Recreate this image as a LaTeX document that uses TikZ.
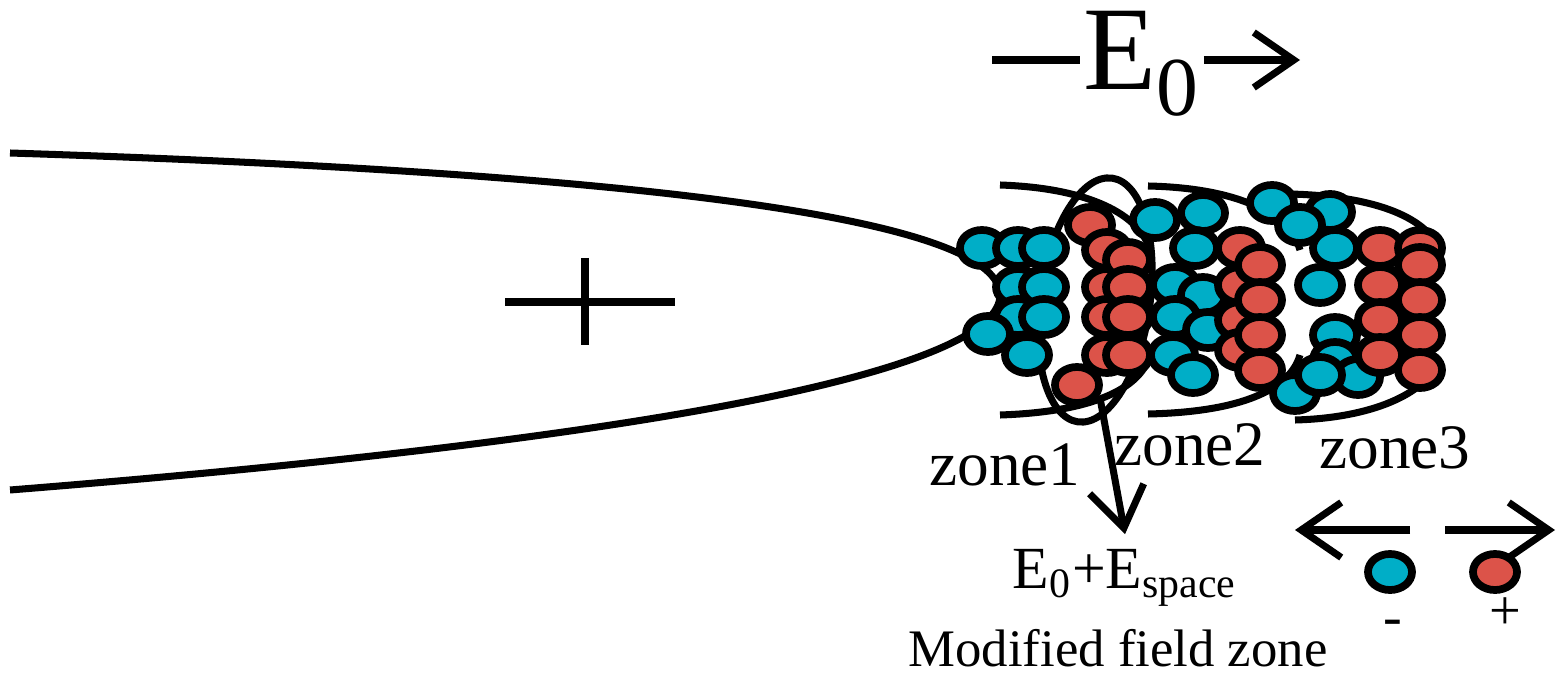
\documentclass[tikz,border=0pt]{standalone}
\usepackage{fontspec}
\setmainfont{Liberation Serif}
\usetikzlibrary{arrows.meta,shapes.geometric}
\definecolor{ion}{HTML}{00AEC7}
\definecolor{pos}{HTML}{DC5349}
\tikzset{
  blob/.style={ellipse,draw,line width=2.2pt,inner sep=0pt,minimum width=0.44cm,minimum height=0.36cm},
  neg/.style={blob,fill=ion},
  plus/.style={blob,fill=pos},
  barb/.style={-{Straight Barb[length=4mm,width=5.5mm,line width=2pt]}},
}
\begin{document}
\begin{tikzpicture}[x=0.01cm,y=-0.01cm,line width=2pt]
\useasboundingbox (0,0) rectangle (1566,673);
            % tip and shells
            \draw (10,153) .. controls (700,175) and (1000,225) .. (1000,295) .. controls (1000,365) and (700,435) .. (10,490);
            \draw (505,302) -- (675,302);
            \draw (585,258) -- (585,345);
            \draw (1000,185) .. controls (1090,188) and (1140,215) .. (1150,250);
            \draw (1000,415) .. controls (1090,412) and (1140,390) .. (1150,355);
            \draw (1148,186) .. controls (1240,188) and (1290,215) .. (1300,250);
            \draw (1148,414) .. controls (1240,412) and (1290,390) .. (1300,355);
            \draw (1290,194) .. controls (1370,196) and (1425,215) .. (1440,250);
            \draw (1295,420) .. controls (1370,418) and (1425,395) .. (1440,360);
            \draw[rotate around={-8:(1095,300)}] (1095,300) ellipse (0.55cm and 1.23cm);

            % ions
            \foreach \p [count=\i] in {(982,248),(1018,248),(1044,248),(1018,287),(1044,287),(1018,317),(1044,317),(988,334),(1027,355),
                (1155,220),(1203,213),(1195,248),(1175,285),(1203,295),(1175,317),(1208,330),(1173,355),(1193,375),
                (1272,203),(1330,212),(1300,225),(1335,248),(1320,285),(1335,335),(1335,360),(1295,393),(1358,377),(1320,375)}
              \node[neg] (n\i) at \p {};
            \foreach \p [count=\i] in {(1090,225),(1107,250),(1107,287),(1107,317),(1107,355),(1128,260),(1128,287),(1128,317),(1128,355),(1077,385),
                (1240,248),(1240,285),(1240,320),(1240,350),(1260,265),(1260,300),(1260,335),(1260,370),
                (1380,248),(1420,248),(1420,265),(1380,285),(1420,300),(1380,320),(1420,335),(1380,355),(1420,370)}
              \node[plus] (p\i) at \p {};

            % labels
            \node[inner sep=0pt] (Ez) at (1142,64) {\fontsize{34}{38}\selectfont E\textsubscript{0}};
            \coordinate (El) at (992,60);
            \coordinate (Er) at (1300,60);
            \draw (El) -- (El -| Ez.west);
            \draw[barb] (Er -| Ez.east) -- (Er);
            \node (z1) at (1005,465) {\fontsize{18}{21}\selectfont zone1};
            \node (z2) at (1190,445) {\fontsize{18}{21}\selectfont zone2};
            \node (z3) at (1395,448) {\fontsize{18}{21}\selectfont zone3};
            \node (Es) at (1125,578) {\fontsize{17}{20}\selectfont E\textsubscript{0}+E\textsubscript{space}};
            \node (mz) at (1118,648) {\fontsize{15}{18}\selectfont Modified field zone};
            \coordinate (ms) at (1100,398);
            \draw[barb] (ms) -- (Es.north);

            % legend
            \node[neg] (ln) at (1390,572) {};
            \node[plus] (lp) at (1495,572) {};
            \coordinate (la) at (1410,530);
            \coordinate (lb) at (1295,530);
            \coordinate (lc) at (1445,530);
            \coordinate (ld) at (1555,530);
            \draw[barb] (la) -- (lb);
            \draw[barb] (lc) -- (ld);
            \node (mn) at (1393,628) {\fontsize{16}{19}\selectfont -};
            \node (mp) at (1505,614) {\fontsize{16}{19}\selectfont +};
        \end{tikzpicture}
\end{document}
